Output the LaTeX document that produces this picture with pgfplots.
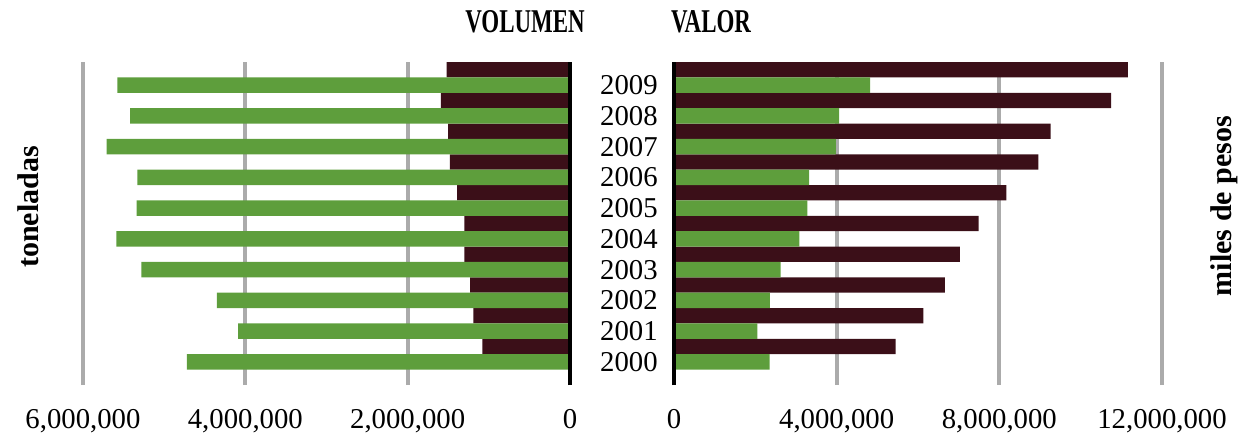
\documentclass[border=0pt]{standalone}
\usepackage{pgfplots}
\pgfplotsset{compat=1.18}
\usepackage{graphicx}
\usepackage{fontspec}
\setmainfont{Liberation Serif}

\definecolor{verde}{HTML}{5E9E3C}
\definecolor{vino}{HTML}{3B0F18}
\definecolor{rejilla}{HTML}{ABABAB}

% volumen (toneladas): anio, vino, verde
\pgfplotstableread{
y    vino     verde
0    1080000  4720000
1    1190000  4090000
2    1230000  4350000
3    1300000  5280000
4    1300000  5590000
5    1390000  5340000
6    1480000  5330000
7    1500000  5710000
8    1590000  5420000
9    1520000  5575000
}\volumen

% valor (miles de pesos)
\pgfplotstableread{
y    vino      verde
0    5450000   2350000
1    6130000   2050000
2    6660000   2360000
3    7030000   2620000
4    7490000   3080000
5    8170000   3280000
6    8960000   3320000
7    9260000   3980000
8    10750000  4060000
9    11160000  4820000
}\valor

\begin{document}
\begin{tikzpicture}
\pgfplotsset{
  panel/.style={
    scale only axis,
    height=129.2pt,
    xbar,
    bar width=0.5,
    ymin=-0.75, ymax=9.75,
    ytick={0,...,9},
    axis line style={draw=none},
    major tick length=0pt,
    xmajorgrids,
    grid style={rejilla, line width=1.6pt},
    font=\fontsize{11.5}{13}\selectfont,
    xticklabel style={yshift=-6.4pt},
    scaled x ticks=false,
    clip=false,
  },
}
\useasboundingbox (-33.2pt,-20.8pt) rectangle (464.8pt,154pt);

\begin{axis}[panel,
  at={(0pt,0pt)}, anchor=south west,
  width=194.8pt,
  x dir=reverse,
  xmin=0, xmax=6000000,
  xtick={0,2000000,4000000,6000000},
  xticklabels={0,{2,000,000},{4,000,000},{6,000,000}},
  yticklabels={},
]
\addplot[draw=none, fill=vino, bar shift=0.5] table[x=vino, y=y] {\volumen};
\addplot[draw=none, fill=verde, bar shift=0] table[x=verde, y=y] {\volumen};
\draw[black, line width=1.6pt] (axis cs:0,-0.75) -- (axis cs:0,9.75);
\end{axis}

\begin{axis}[panel,
  at={(236.4pt,0pt)}, anchor=south west,
  width=195.2pt,
  xmin=0, xmax=12000000,
  xtick={0,4000000,8000000,12000000},
  xticklabels={0,{4,000,000},{8,000,000},{12,000,000}},
  yticklabels={2000,2001,2002,2003,2004,2005,2006,2007,2008,2009},
  yticklabel style={xshift=-3pt},
]
\addplot[draw=none, fill=vino, bar shift=0.5] table[x=vino, y=y] {\valor};
\addplot[draw=none, fill=verde, bar shift=0] table[x=verde, y=y] {\valor};
\draw[black, line width=1.6pt] (axis cs:0,-0.75) -- (axis cs:0,9.75);
\end{axis}

\node at (176.8pt,145.2pt) {\fontsize{13.3}{15}\selectfont\bfseries\scalebox{0.69}[1]{VOLUMEN}};
\node at (251.2pt,145.2pt) {\fontsize{13.3}{15}\selectfont\bfseries\scalebox{0.69}[1]{VALOR}};
\node[rotate=90] at (-22pt,71.2pt) {\fontsize{12}{14}\selectfont\bfseries toneladas};
\node[rotate=90] at (456.4pt,71.6pt) {\fontsize{12}{14}\selectfont\bfseries miles de pesos};
\end{tikzpicture}
\end{document}
